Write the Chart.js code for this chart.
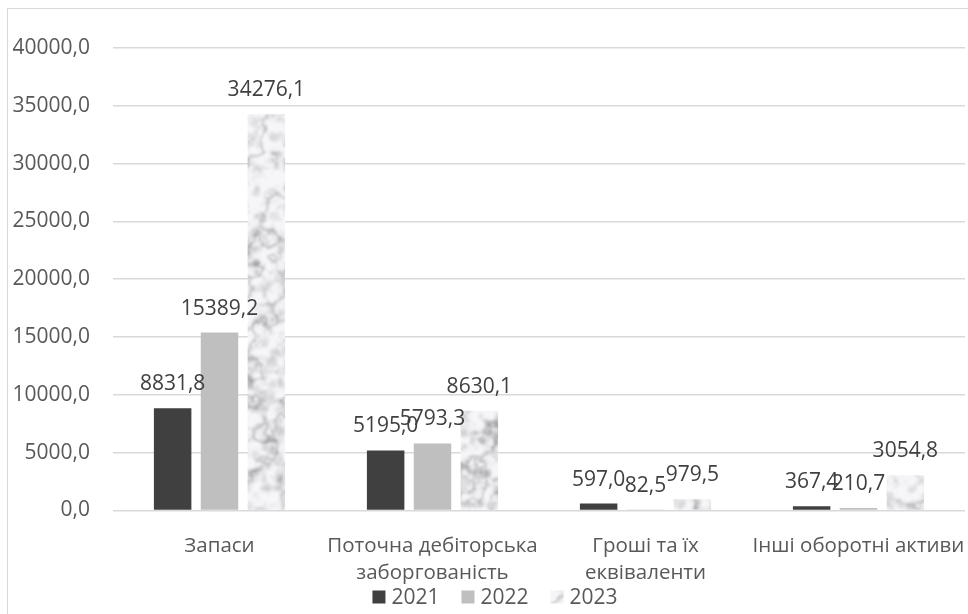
<!DOCTYPE html>
<html lang="uk">
<head>
    <meta charset="UTF-8" />
    <title>Оборотні активи</title>
    <script src="https://cdn.jsdelivr.net/npm/chart.js"></script>
    <style>
        body {
            margin: 0;
            background: #ffffff;
            overflow: hidden;
        }
        .frame {
            position: absolute;
            left: 7px;
            top: 8px;
            width: 980px;
            height: 620px;
            border: 1px solid #d9d9d9;
        }
        #chart {
            position: absolute;
            left: 0;
            top: 0;
        }
    </style>
</head>
<body>
<div class="frame"></div>
<canvas id="chart" width="968" height="614"></canvas>
<script>
    const categories = [
        'Запаси',
        ['Поточна дебіторська', 'заборгованість'],
        ['Гроші та їх', 'еквіваленти'],
        'Інші оборотні активи'
    ];
    const years = ['2021', '2022', '2023'];
    const values2021 = [8831.8, 5195.0, 597.0, 367.4];
    const values2022 = [15389.2, 5793.3, 82.5, 210.7];
    const values2023 = [34276.1, 8630.1, 979.5, 3054.8];
    const yTicks = [0, 5000, 10000, 15000, 20000, 25000, 30000, 35000, 40000];

    const FONT = '"Open Sans", sans-serif';
    const fmt = v => v.toFixed(1).replace('.', ',');

    // smooth value noise for the marble fill
    function hash(i, j) {
        const s = Math.sin(i * 127.1 + j * 311.7) * 43758.5453;
        return s - Math.floor(s);
    }
    function noise(x, y) {
        const i = Math.floor(x), j = Math.floor(y);
        const fx = x - i, fy = y - j;
        const ux = fx * fx * (3 - 2 * fx), uy = fy * fy * (3 - 2 * fy);
        const a = hash(i, j), b = hash(i + 1, j), c = hash(i, j + 1), d = hash(i + 1, j + 1);
        return a + (b - a) * ux + (c - a) * uy + (a - b - c + d) * ux * uy;
    }
    function fbm(x, y) {
        let v = 0, amp = 0.5, f = 1;
        for (let o = 0; o < 5; o++) {
            v += amp * noise(x * f, y * f);
            f *= 2;
            amp *= 0.5;
        }
        return v;
    }

    // one texture as large as the canvas, so no tile seams show inside a bar
    function marblePattern(w, h) {
        const c = document.createElement('canvas');
        c.width = w;
        c.height = h;
        const g = c.getContext('2d');
        const img = g.createImageData(w, h);
        for (let y = 0; y < h; y++) {
            for (let x = 0; x < w; x++) {
                const n = fbm(x / 16, y / 16);
                const m = fbm(x / 8 + 5, y / 8 + 3);
                const vein = Math.pow(1 - Math.abs(Math.sin(x * 0.07 + y * 0.03 + n * 6)), 3);
                const cloud = Math.max(0, m - 0.45);
                const s = Math.max(150, Math.min(248, 246 - vein * 55 - cloud * 120));
                const i = (y * w + x) * 4;
                img.data[i] = s;
                img.data[i + 1] = s;
                img.data[i + 2] = s + 2;
                img.data[i + 3] = 255;
            }
        }
        g.putImageData(img, 0, 0);
        const soft = document.createElement('canvas');
        soft.width = w;
        soft.height = h;
        const sg = soft.getContext('2d');
        sg.fillStyle = '#eeeeee';
        sg.fillRect(0, 0, w, h);
        sg.filter = 'blur(1px)';
        sg.drawImage(c, 0, 0);
        return sg.createPattern(soft, 'repeat');
    }

    const barLabels = {
        id: 'barLabels',
        afterDatasetsDraw(chart) {
            const ctx = chart.ctx;
            ctx.save();
            ctx.font = '21px ' + FONT;
            ctx.fillStyle = '#404040';
            ctx.textAlign = 'center';
            ctx.textBaseline = 'alphabetic';
            chart.data.datasets.forEach((ds, i) => {
                chart.getDatasetMeta(i).data.forEach((bar, j) => {
                    ctx.fillText(fmt(ds.data[j]), bar.x, bar.y - 18);
                });
            });
            ctx.restore();
        }
    };

    // legend row under the axis labels
    const bottomLegend = {
        id: 'bottomLegend',
        afterDraw(chart) {
            const ctx = chart.ctx;
            const box = 13, gapText = 6, gapItem = 22, cy = 597, cx = 495;
            ctx.save();
            ctx.font = '21px ' + FONT;
            const items = chart.data.datasets.map(ds => ({
                text: ds.label,
                fill: ds.backgroundColor,
                w: box + gapText + ctx.measureText(ds.label).width
            }));
            const total = items.reduce((s, it) => s + it.w, 0) + gapItem * (items.length - 1);
            let x = cx - total / 2;
            ctx.textBaseline = 'middle';
            ctx.textAlign = 'left';
            items.forEach(it => {
                ctx.fillStyle = it.fill;
                ctx.fillRect(x, cy - box / 2, box, box);
                ctx.fillStyle = '#595959';
                ctx.fillText(it.text, x + box + gapText, cy + 1);
                x += it.w + gapItem;
            });
            ctx.restore();
        }
    };

    const canvas = document.getElementById('chart');
    const ctx = canvas.getContext('2d');
    new Chart(ctx, {
        type: 'bar',
        data: {
            labels: categories,
            datasets: [
                { label: years[0], data: values2021, backgroundColor: '#404040' },
                { label: years[1], data: values2022, backgroundColor: '#bfbfbf' },
                { label: years[2], data: values2023, backgroundColor: marblePattern(canvas.width, canvas.height) }
            ]
        },
        options: {
            responsive: false,
            animation: false,
            categoryPercentage: 0.66,
            barPercentage: 0.8,
            layout: { padding: { left: 0, right: 3, top: 48, bottom: 13 } },
            plugins: {
                tooltip: { enabled: false },
                legend: { display: false }
            },
            scales: {
                x: {
                    afterFit: s => { s.paddingLeft = 0; s.paddingRight = 0; },
                    grid: { display: false },
                    border: { display: false },
                    ticks: {
                        color: '#595959',
                        padding: 14,
                        maxRotation: 0,
                        autoSkip: false,
                        font: { family: FONT, size: 20.5, lineHeight: 1.33 }
                    }
                },
                y: {
                    min: 0,
                    max: 40000,
                    afterFit: s => { s.width = 113; },
                    afterBuildTicks: s => { s.ticks = yTicks.map(v => ({ value: v })); },
                    border: { display: false },
                    grid: { color: '#d9d9d9', lineWidth: 1.5, drawTicks: false },
                    ticks: {
                        color: '#595959',
                        padding: 23,
                        font: { family: FONT, size: 21 },
                        callback: v => fmt(v)
                    }
                }
            }
        },
        plugins: [barLabels, bottomLegend]
    });
</script>
</body>
</html>
